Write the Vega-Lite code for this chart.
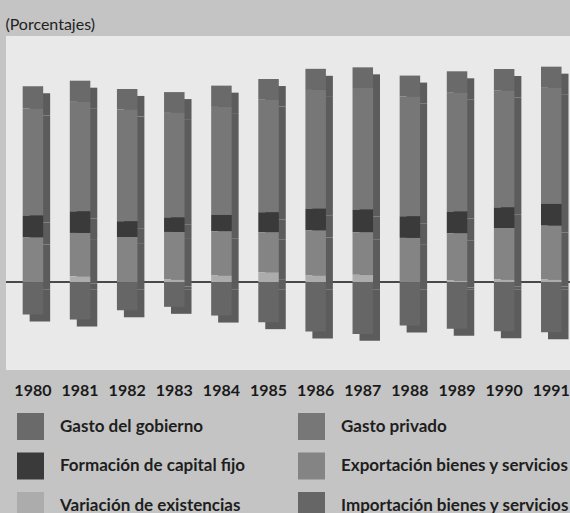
{
  "$schema": "https://vega.github.io/schema/vega-lite/v6.json",
  "width": 564,
  "height": 334,
  "autosize": {"type": "none"},
  "padding": {"left": 6, "top": 36, "right": 0, "bottom": 143},
  "background": "#c4c4c4",
  "title": {"text": "(Porcentajes)", "anchor": "start", "offset": 3, "font": "Lato", "fontSize": 16, "fontWeight": "normal", "color": "#222222"},
  "config": {
    "view": {"fill": "#e9e9e9", "stroke": null},
    "font": "Lato"
  },
  "data": {"values": [
    {"anio": "1980", "Gasto del gobierno": 13.5, "Gasto privado": 64.9, "Formación de capital fijo": 13.3, "Exportación bienes y servicios": 27.1, "Variación de existencias": 0, "Importación bienes y servicios": -19.6},
    {"anio": "1981", "Gasto del gobierno": 12.8, "Gasto privado": 66.4, "Formación de capital fijo": 13.1, "Exportación bienes y servicios": 26.3, "Variación de existencias": 3.6, "Importación bienes y servicios": -22.6},
    {"anio": "1982", "Gasto del gobierno": 12.4, "Gasto privado": 67.8, "Formación de capital fijo": 9.5, "Exportación bienes y servicios": 27.5, "Variación de existencias": 0, "Importación bienes y servicios": -17.0},
    {"anio": "1983", "Gasto del gobierno": 12.6, "Gasto privado": 63.4, "Formación de capital fijo": 8.8, "Exportación bienes y servicios": 28.9, "Variación de existencias": 1.6, "Importación bienes y servicios": -14.9},
    {"anio": "1984", "Gasto del gobierno": 12.9, "Gasto privado": 65.5, "Formación de capital fijo": 9.9, "Exportación bienes y servicios": 26.8, "Variación de existencias": 4.1, "Importación bienes y servicios": -20.2},
    {"anio": "1985", "Gasto del gobierno": 12.5, "Gasto privado": 68.3, "Formación de capital fijo": 12.1, "Exportación bienes y servicios": 24.2, "Variación de existencias": 6.1, "Importación bienes y servicios": -24.2},
    {"anio": "1986", "Gasto del gobierno": 12.8, "Gasto privado": 72.0, "Formación de capital fijo": 13.2, "Exportación bienes y servicios": 27.3, "Variación de existencias": 4.1, "Importación bienes y servicios": -29.9},
    {"anio": "1987", "Gasto del gobierno": 12.6, "Gasto privado": 73.6, "Formación de capital fijo": 13.8, "Exportación bienes y servicios": 25.8, "Variación de existencias": 4.5, "Importación bienes y servicios": -31.3},
    {"anio": "1988", "Gasto del gobierno": 12.7, "Gasto privado": 72.6, "Formación de capital fijo": 13.1, "Exportación bienes y servicios": 26.9, "Variación de existencias": 0, "Importación bienes y servicios": -26.2},
    {"anio": "1989", "Gasto del gobierno": 13.0, "Gasto privado": 72.0, "Formación de capital fijo": 13.2, "Exportación bienes y servicios": 28.7, "Variación de existencias": 1.0, "Importación bienes y servicios": -28.2},
    {"anio": "1990", "Gasto del gobierno": 13.1, "Gasto privado": 70.8, "Formación de capital fijo": 12.5, "Exportación bienes y servicios": 31.3, "Variación de existencias": 1.6, "Importación bienes y servicios": -29.7},
    {"anio": "1991", "Gasto del gobierno": 12.8, "Gasto privado": 70.4, "Formación de capital fijo": 13.2, "Exportación bienes y servicios": 32.7, "Variación de existencias": 1.6, "Importación bienes y servicios": -30.3}
  ]},
  "transform": [
    {"fold": ["Gasto del gobierno", "Gasto privado", "Formación de capital fijo", "Exportación bienes y servicios", "Variación de existencias", "Importación bienes y servicios"], "as": ["componente", "valor"]},
    {"lookup": "componente", "from": {"data": {"values": [
      {"componente": "Variación de existencias", "orden": 1},
      {"componente": "Exportación bienes y servicios", "orden": 2},
      {"componente": "Formación de capital fijo", "orden": 3},
      {"componente": "Gasto privado", "orden": 4},
      {"componente": "Gasto del gobierno", "orden": 5},
      {"componente": "Importación bienes y servicios", "orden": 6}
    ]}, "key": "componente", "fields": ["orden"]}}
  ],
  "resolve": {"scale": {"x": "independent", "y": "independent"}},
  "layer": [
    {
      "mark": {"type": "rule", "color": "#4a4a4a", "strokeWidth": 1.2},
      "encoding": {
        "y": {"datum": 0, "type": "quantitative", "scale": {"domain": [-53.2, 149.3], "nice": false, "zero": false}, "axis": null}
      }
    },
    {
      "mark": {"type": "bar", "color": "#5c5c5c"},
      "encoding": {
        "x": {"field": "anio", "type": "nominal", "scale": {"paddingInner": 0.565, "paddingOuter": 0.267, "align": 0.94}, "axis": null},
        "y": {"field": "valor", "type": "quantitative", "stack": "zero",
              "scale": {"domain": [-48.96, 153.54], "nice": false, "zero": false}, "axis": null},
        "detail": {"field": "componente", "type": "nominal"},
        "order": {"field": "orden", "type": "quantitative"}
      }
    },
    {
      "mark": {"type": "bar"},
      "encoding": {
        "x": {"field": "anio", "type": "nominal", "title": null,
              "scale": {"paddingInner": 0.565, "paddingOuter": 0.267, "align": 0.663},
              "axis": {"domain": false, "ticks": false, "labelAngle": 0, "labelFont": "Lato", "labelFontSize": 16, "labelFontWeight": "bold", "labelColor": "#1a1a1a", "labelPadding": 12}},
        "y": {"field": "valor", "type": "quantitative", "stack": "zero",
              "scale": {"domain": [-53.2, 149.3], "nice": false, "zero": false},
              "axis": null},
        "order": {"field": "orden", "type": "quantitative"},
        "color": {"field": "componente", "type": "nominal",
                  "scale": {"domain": ["Gasto del gobierno", "Formación de capital fijo", "Variación de existencias", "Gasto privado", "Exportación bienes y servicios", "Importación bienes y servicios"],
                            "range": ["#6a6a6a", "#3a3a3a", "#acacac", "#777777", "#848484", "#666666"]},
                  "legend": {"orient": "none", "legendX": 11, "legendY": 377, "columns": 2, "title": null,
                             "symbolType": "square", "symbolSize": 729, "symbolStrokeWidth": 0, "symbolOpacity": 1,
                             "labelFont": "Lato", "labelFontSize": 17, "labelFontWeight": "bold", "labelColor": "#1e1e1e",
                             "labelOffset": 16, "labelLimit": 300, "rowPadding": 12.5, "columnPadding": 52}}
      }
    }
  ]
}
